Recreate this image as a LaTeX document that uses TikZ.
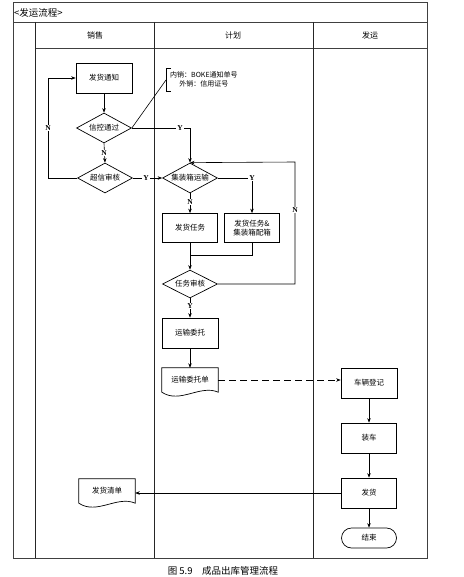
\documentclass[tikz,border=0pt]{standalone}
\usepackage{fontspec}
\setmainfont{Noto Sans CJK SC}
\newfontfamily\lat{Liberation Serif}
\usetikzlibrary{arrows.meta,shapes.geometric}
\begin{document}
\begin{tikzpicture}[x=1pt,y=-1pt,
  every node/.style={font=\fontsize{7.5}{9}\selectfont, inner sep=0pt},
  proc/.style={draw, line width=0.7pt, minimum width=56pt, minimum height=30pt, align=center},
  dec/.style={draw, diamond, aspect=1.8, line width=0.7pt, minimum width=55pt, minimum height=30pt},
  docu/.style={minimum width=56pt, minimum height=24pt},
  term/.style={draw, line width=0.7pt, rounded corners=10pt, minimum width=55pt, minimum height=20pt},
  arr/.style={-{Stealth[length=4.5pt,width=3.5pt]}, line width=0.6pt},
  con/.style={line width=0.6pt},
  yn/.style={font=\lat\bfseries\fontsize{7.5}{8}\selectfont, fill=white, inner sep=0.8pt},
  frame/.style={line width=0.6pt, black!75},
  lane/.style={line width=1pt, black!85},
  hdr/.style={font=\fontsize{8}{9}\selectfont}
]
\useasboundingbox (0,0) rectangle (463,577);
% frame
\draw[frame] (13,2) rectangle (427,558);
\draw[frame] (13,22) -- (427,22);
\draw[frame] (35,48) -- (427,48);
\draw[lane] (35,22) -- (35,558);
\draw[lane] (154,22) -- (154,558);
\draw[lane] (313,22) -- (313,558);
\node[anchor=west, font=\fontsize{9.5}{11}\selectfont] (title) at (14,13) {<发运流程>};
\node[hdr] (h1) at (95,35) {销售};
\node[hdr] (h2) at (233,35) {计划};
\node[hdr] (h3) at (370,35) {发运};
% nodes
\node[proc] (fh) at (104,78) {发货通知};
\node[dec] (xk) at (104,128) {信控通过};
\node[dec] (cx) at (105,178) {超信审核};
\node[dec] (jz) at (190,178) {集装箱运输};
\node[proc, minimum width=55pt, minimum height=29pt] (fr) at (190,228) {发货任务};
\node[proc, minimum width=55pt, minimum height=29pt] (fj) at (252,228) {发货任务\&\\集装箱配箱};
\node[dec, minimum height=28pt] (rs) at (190,284) {任务审核};
\node[proc] (yw) at (190,333) {运输委托};
\node[docu] (wd) at (190,380) {运输委托单};
\node[proc, minimum width=56pt] (cl) at (369,383) {车辆登记};
\node[proc, minimum width=55pt] (zc) at (369,438) {装车};
\node[proc, minimum width=55pt] (fhv) at (369,493) {发货};
\node[term] (end) at (369,538) {结束};
\node[docu] (qd) at (107,491) {发货清单};
% document shapes
\draw[line width=0.7pt] (wd.north west) -- (wd.north east) -- (wd.south east)
  .. controls +(-18,-8) and +(18,12) .. (wd.south west) -- cycle;
\draw[line width=0.7pt] (qd.north west) -- (qd.north east) -- (qd.south east)
  .. controls +(-18,-8) and +(18,12) .. (qd.south west) -- cycle;
% note
\node[align=center, anchor=west, font=\fontsize{7}{9}\selectfont] (note) at (170,79) {内销：BOKE通知单号\\外销：信用证号};
\coordinate (br) at (166,80);
\draw[con] (171,68) -- (166,68) -- (166,91) -- (171,91);
\draw[con] (xk.east) -- (br);
% connectors
\draw[arr] (fh.south) -- (xk.north);
\draw[arr] (xk.east) -- (xk.east -| jz.north) -- (jz.north);
\draw[arr] (xk.south) -- (cx.north);
\draw[arr] (cx.west) -- (48,178) -- (48,78) -- (fh.west);
\draw[arr] (cx.east) -- (jz.west);
\draw[arr] (jz.east) -- (jz.east -| fj.north) -- (fj.north);
\draw[arr] (jz.south) -- (fr.north);
\coordinate (m) at (190,255);
\draw[con] (fr.south) -- (m);
\draw[con] (fj.south) -- (fj.south |- m) -- (m);
\draw[arr] (m) -- (rs.north);
\draw[arr] (rs.east) -- (295,284) -- (295,162) -- (jz.north);
\draw[arr] (rs.south) -- (yw.north);
\draw[arr] (yw.south) -- (wd.north);
\draw[arr, dash pattern=on 7pt off 4pt] (wd.east) -- (wd.east -| cl.west);
\draw[arr] (cl.south) -- (zc.north);
\draw[arr] (zc.south) -- (fhv.north);
\draw[arr] (fhv.south) -- (end.north);
\draw[arr] (fhv.west) -- (fhv.west -| qd.east);
% labels
\node[yn] (y1) at (180,128) {Y};
\node[yn] (n1) at (104,153) {N};
\node[yn] (n2) at (48,128) {N};
\node[yn] (y2) at (146,178) {Y};
\node[yn] (y3) at (252,178) {Y};
\node[yn] (n3) at (190,202) {N};
\node[yn] (n4) at (295,210) {N};
\node[yn] (y4) at (190,306) {Y};
% caption
\node[font=\fontsize{9.5}{11}\selectfont] (cap) at (223,571) {图 5.9\quad 成品出库管理流程};
\end{tikzpicture}
\end{document}
